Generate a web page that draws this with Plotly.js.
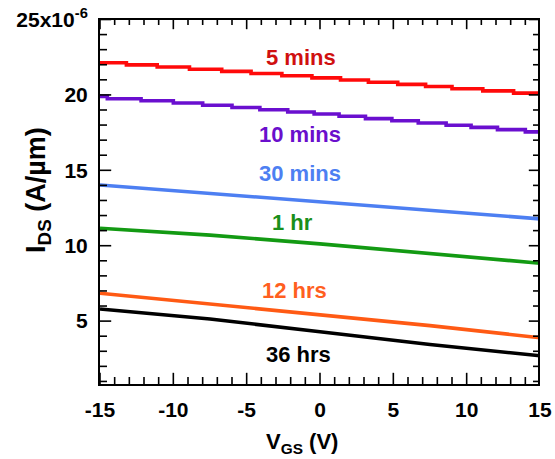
<!DOCTYPE html>
<html>
<head>
<meta charset="utf-8">
<script src="https://cdn.plot.ly/plotly-3.0.1.min.js"></script>
<style>html,body{margin:0;padding:0;background:#fff;}#chart{width:555px;height:459px;}</style>
</head>
<body>
<div id="chart"></div>
<script>
// Stepped series (quantized measurement), values in units of 1e-6 A/um
const redX = [-15, -13.2, -11.1, -8.9, -6.7, -4.7, -2.6, -0.55, 1.4, 3.3, 5.3, 7.2, 9.0, 11.1, 13.2, 15];
const redY = [22.13, 21.99, 21.85, 21.70, 21.56, 21.42, 21.27, 21.13, 20.99, 20.84, 20.70, 20.56, 20.41, 20.27, 20.12, 20.12];
const purpleX = [-15, -14.5, -12.2, -10.0, -8.0, -6.0, -4.1, -2.2, -0.4, 1.3, 3.1, 4.9, 6.7, 8.6, 10.3, 12.1, 14.0, 15];
const purpleY = [19.90, 19.75, 19.61, 19.46, 19.31, 19.17, 19.02, 18.87, 18.73, 18.58, 18.43, 18.29, 18.14, 17.99, 17.85, 17.70, 17.55, 17.55];
// Smooth series
const smoothX = [-15, -7.5, 0, 7.5, 15];
const blueY = [14.03, 13.47, 12.92, 12.35, 11.78];
const greenY = [11.16, 10.70, 10.12, 9.47, 8.84];
const orangeY = [6.85, 6.14, 5.45, 4.70, 3.90];
const blackX = [-15, -7.5, 0, 7.5, 15];
const blackY = [5.80, 5.14, 4.30, 3.45, 2.70];

const seriesNames = ['5 mins', '10 mins', '30 mins', '1 hr', '12 hrs', '36 hrs'];
const yTickVals = [5, 10, 15, 20, 25];
const yTickText = ['5', '10', '15', '20', '25x10<sup>-6</sup>'];
const xTickVals = [-15, -10, -5, 0, 5, 10, 15];
const xTickText = ['-15', '-10', '-5', '0', '5', '10', '15'];
const xTitle = 'V<sub>GS</sub> (V)';
const yTitle = 'I<sub>DS</sub> (A/µm)';

const lineColors = ['#ff0a0a', '#6a0fcf', '#4d7ff2', '#139a13', '#ff5a14', '#000000'];
const labelColors = ['#d01010', '#6a0fcc', '#4d7ff2', '#1a8f1a', '#ff5f1f', '#000000'];
const labelPos = [[301, 57], [300, 134], [300, 173], [292, 223], [294, 290], [298, 354]];

const XR = [-15, 15], YR = [0.83, 25.1];
const PLOT_W = 440, PLOT_H = 366;
const W = 3.6;
const shapesLine = ['hv', 'hv', 'linear', 'linear', 'linear', 'linear'];
const xs = [redX, purpleX, smoothX, smoothX, smoothX, blackX];
const ys = [redY, purpleY, blueY, greenY, orangeY, blackY];
const traces = xs.map((x, i) => ({
  x: x, y: ys[i], type: 'scatter', mode: 'lines', name: seriesNames[i],
  line: {color: lineColors[i], width: W, shape: shapesLine[i]}, hoverinfo: 'skip'
}));

// Frame (top/right edges) as clipped line traces along the axis range limits
traces.push({x: XR, y: [YR[1], YR[1]], type: 'scatter', mode: 'lines', line: {color: '#000', width: 4}, hoverinfo: 'skip', showlegend: false});
traces.push({x: [XR[1], XR[1]], y: YR, type: 'scatter', mode: 'lines', line: {color: '#000', width: 4}, hoverinfo: 'skip', showlegend: false});

// Inside tick marks: markers on the edges, clipped to the plot area
const xMaj = [], xMin = [], yMaj = [], yMin = [];
for (let v = XR[0]; v <= XR[1]; v++) (xTickVals.includes(v) ? xMaj : xMin).push(v);
for (let v = Math.ceil(YR[0]); v <= Math.floor(YR[1]); v++) (yTickVals.includes(v) ? yMaj : yMin).push(v);
function tickTrace(x, y, symbol, size) {
  return {x: x, y: y, type: 'scatter', mode: 'markers', hoverinfo: 'skip', showlegend: false, cliponaxis: true,
    marker: {symbol: symbol, size: size, color: '#000', line: {color: '#000', width: 1.6}}};
}
[[xMaj, 16], [xMin, 10]].forEach(([vals, s]) => {
  traces.push(tickTrace(vals, vals.map(() => YR[0]), 'line-ns-open', s));
  traces.push(tickTrace(vals, vals.map(() => YR[1]), 'line-ns-open', s));
});
[[yMaj, 16], [yMin, 10]].forEach(([vals, s]) => {
  traces.push(tickTrace(vals.map(() => XR[0]), vals, 'line-ew-open', s));
  traces.push(tickTrace(vals.map(() => XR[1]), vals, 'line-ew-open', s));
});

const fontFam = 'Liberation Sans, Arial, sans-serif';
const px2x = p => (p - 100) / PLOT_W;
const px2y = p => 1 - (p - 18) / PLOT_H;
const annotations = seriesNames.map((n, i) => ({
  text: n, xref: 'paper', yref: 'paper', showarrow: false,
  x: px2x(labelPos[i][0]), y: px2y(labelPos[i][1]),
  xanchor: 'center', yanchor: 'middle',
  font: {family: fontFam, size: 22, color: labelColors[i], weight: 'bold'}
}));
annotations.push({
  text: xTitle, xref: 'paper', yref: 'paper', showarrow: false,
  x: px2x(302), y: px2y(443), xanchor: 'center', yanchor: 'middle',
  font: {family: fontFam, size: 22, color: '#000', weight: 'bold'}
});
annotations.push({
  text: yTitle, xref: 'paper', yref: 'paper', showarrow: false, textangle: -90,
  x: px2x(38), y: px2y(190), xanchor: 'center', yanchor: 'middle',
  font: {family: fontFam, size: 27, color: '#000', weight: 'bold'}
});

const tickFont = {family: fontFam, size: 21, color: '#000', weight: 'bold'};

const layout = {
  width: 555, height: 459,
  margin: {l: 100, r: 15, t: 18, b: 75},
  paper_bgcolor: '#fff', plot_bgcolor: '#fff',
  showlegend: false,
  annotations: annotations,
  xaxis: {
    range: XR, tickvals: xTickVals, ticktext: xTickText, ticks: '', showline: true, linecolor: '#000', linewidth: 2,
    showgrid: false, zeroline: false, tickfont: tickFont, ticklabelstandoff: 6
  },
  yaxis: {
    range: YR, tickvals: yTickVals, ticktext: yTickText, ticks: '', showline: true, linecolor: '#000', linewidth: 2,
    showgrid: false, zeroline: false, tickfont: tickFont, ticklabelstandoff: 6
  }
};

Plotly.newPlot('chart', traces, layout, {displayModeBar: false, staticPlot: true});
</script>
</body>
</html>
